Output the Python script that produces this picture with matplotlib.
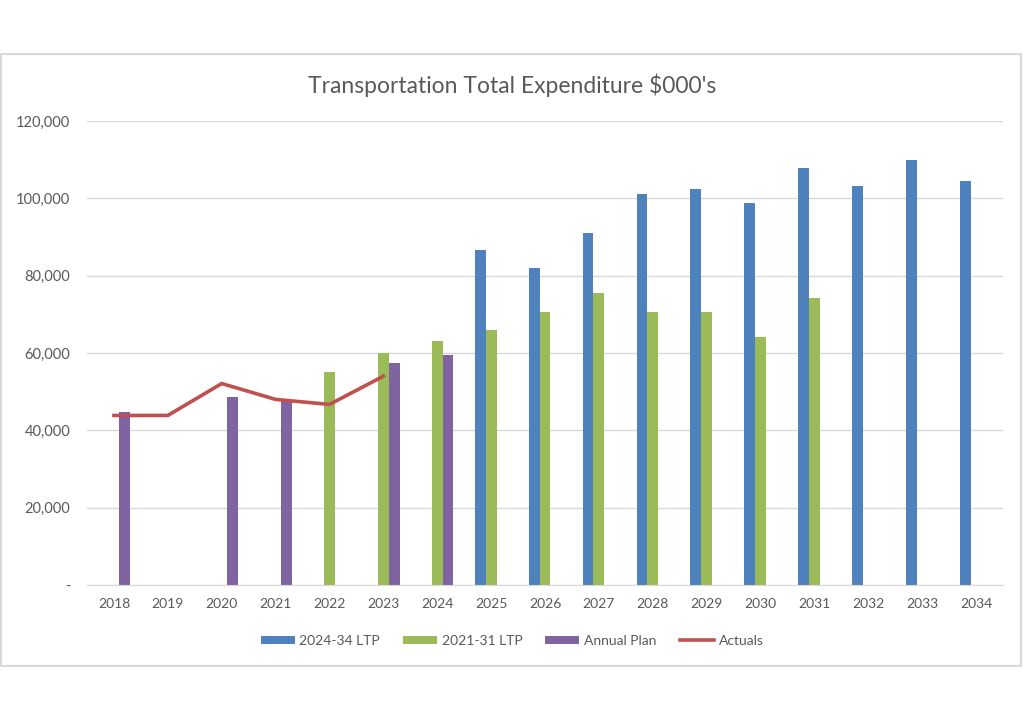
import matplotlib
matplotlib.use("Agg")
import matplotlib.pyplot as plt
from matplotlib.patches import Rectangle
from matplotlib.ticker import FuncFormatter
import numpy as np

plt.rcParams['font.family'] = ['Lato', 'DejaVu Sans']

years = [str(y) for y in range(2018, 2035)]
# None = no bar for that year
ltp_2024 = [None, None, None, None, None, None, None,
            86600, 82000, 91100, 101000, 102500, 98900, 107900, 103300, 109900, 104400]
ltp_2021 = [None, None, None, None, 55100, 59900, 63050,
            65900, 70700, 75400, 70500, 70700, 64200, 74200, None, None, None]
annual_plan = [44800, None, 48650, 47800, None, 57300, 59500,
               None, None, None, None, None, None, None, None, None, None]
actuals = [43850, 43850, 52100, 48000, 46700, 54000]

c_blue = '#4F81BD'
c_green = '#9BBB59'
c_purple = '#8064A2'
c_red = '#C0504D'
grey_txt = '#595959'

fig = plt.figure(figsize=(10.24, 7.24), dpi=100)
fig.patches.append(Rectangle((1/1024, 1 - 666/724), 1020/1024, 612/724,
                             transform=fig.transFigure, fill=False,
                             edgecolor='#D9D9D9', linewidth=1.5))

ax = fig.add_axes([87/1024, 1 - 585/724, 916/1024, 464/724])

x = np.arange(len(years))
w = 0.2

def draw(vals, off, color, label):
    xs = [i + off for i, v in enumerate(vals) if v is not None]
    hs = [v for v in vals if v is not None]
    return ax.bar(xs, hs, width=w, color=color, label=label, zorder=2)

b1 = draw(ltp_2024, -w, c_blue, '2024-34 LTP')
b2 = draw(ltp_2021, 0, c_green, '2021-31 LTP')
b3 = draw(annual_plan, w, c_purple, 'Annual Plan')
ln, = ax.plot(x[:len(actuals)], actuals, color=c_red, linewidth=2.6, label='Actuals', zorder=3)

ax.set_xlim(-0.5, len(years) - 0.5)
ax.set_ylim(0, 120000)
ax.set_yticks(range(0, 120001, 20000))
ax.yaxis.set_major_formatter(FuncFormatter(lambda v, p: '-' if v == 0 else f'{int(v):,}'))
ax.set_xticks(x)
ax.set_xticklabels(years)
ax.grid(axis='y', color='#D9D9D9', linewidth=1, zorder=0)
for s in ['top', 'right', 'left']:
    ax.spines[s].set_visible(False)
ax.spines['bottom'].set_color('#D9D9D9')
ax.tick_params(length=0, labelsize=10, colors=grey_txt)
ax.tick_params(axis='y', labelsize=10.5, pad=12)
ax.tick_params(axis='x', pad=9)

fig.text(0.5, 1 - 85/724, "Transportation Total Expenditure $000's",
         ha='center', va='center', fontsize=16.5, color=grey_txt)

fig.legend([b1, b2, b3, ln], ['2024-34 LTP', '2021-31 LTP', 'Annual Plan', 'Actuals'],
           loc='center', bbox_to_anchor=(0.5, 1 - 641/724),
           ncol=4, frameon=False, fontsize=10, labelcolor=grey_txt,
           handlelength=2.45, handleheight=0.55, handletextpad=0.35, columnspacing=1.65)

fig.savefig('out.png', dpi=100)
